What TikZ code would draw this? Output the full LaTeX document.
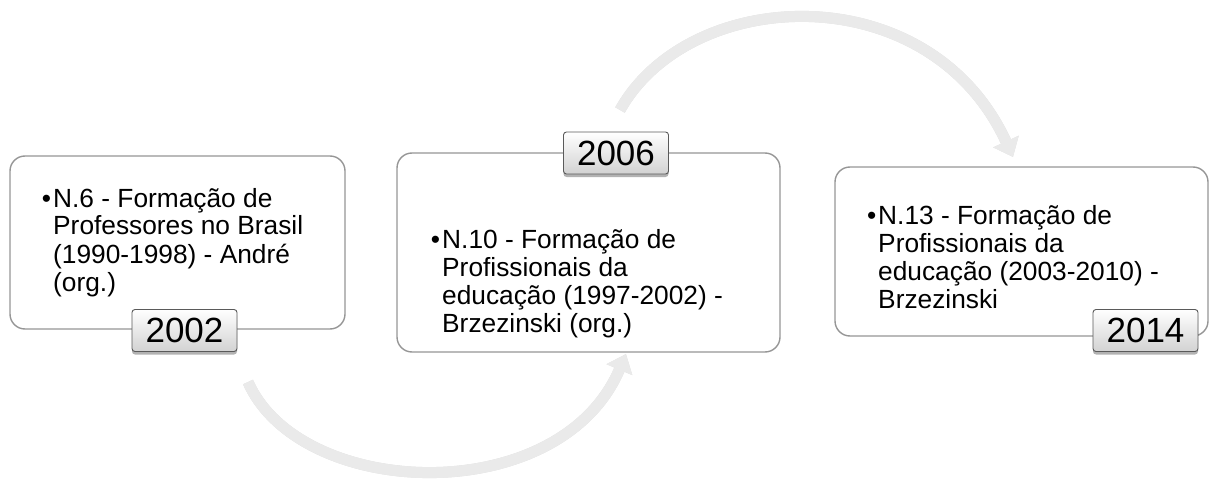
\documentclass[tikz,border=0pt]{standalone}
\usepackage{fontspec}
\setmainfont{Liberation Sans}
\usetikzlibrary{arrows.meta,shadows}
\definecolor{cardline}{RGB}{150,150,150}
\definecolor{yearline}{RGB}{90,90,90}
\definecolor{yeargray}{RGB}{210,210,210}
\definecolor{arrowgray}{RGB}{234,234,234}
\definecolor{arrowshade}{RGB}{200,200,200}
\newcommand{\cardtxt}[1]{\parbox[t]{330pt}{\raggedright\fontsize{26.3}{28}\selectfont\leavevmode\llap{•\kern2pt}#1}}
\begin{document}
\begin{tikzpicture}[x=1pt,y=-1pt,
  card/.style={draw=cardline, line width=1.4pt, rounded corners=15pt, fill=white, inner sep=0pt},
  yearbox/.style={draw=yearline, line width=0.9pt, rounded corners=3pt, top color=white, bottom color=yeargray,
    minimum width=105pt, minimum height=42pt, inner sep=0pt, font=\fontsize{35}{35}\selectfont,
    drop shadow={shadow xshift=0pt, shadow yshift=-3pt, opacity=0.3, fill=black}},
  cardtext/.style={anchor=base west, inner sep=0pt},
  flow/.style={line width=11pt, draw=arrowgray, -{Triangle[width=27pt,length=17pt]}},
  flowshadow/.style={line width=11pt, draw=arrowshade, opacity=0.6, -{Triangle[width=27pt,length=17pt]}},
  ]
\useasboundingbox (0,0) rectangle (1210,484);

% arrows
\coordinate (b0) at (248,382);
\coordinate (b1) at (300,500);
\coordinate (b2) at (560,510);
\coordinate (b3) at (626,354);
\coordinate (t0) at (620,110);
\coordinate (t1) at (690,-15);
\coordinate (t2) at (930,-25);
\coordinate (t3) at (1013,157);
\draw[flowshadow, shift={(1.5,2.5)}] (b0) .. controls (b1) and (b2) .. (b3);
\draw[flow] (b0) .. controls (b1) and (b2) .. (b3);
\draw[flowshadow, shift={(1.5,2.5)}] (t0) .. controls (t1) and (t2) .. (t3);
\draw[flow] (t0) .. controls (t1) and (t2) .. (t3);

% cards
\node[card, minimum width=335pt, minimum height=173pt] (c1) at (177.5,242.5) {};
\node[card, minimum width=383pt, minimum height=199pt] (c2) at (588.5,252.5) {};
\node[card, minimum width=373pt, minimum height=169pt] (c3) at (1021.5,251.5) {};

% texts
\node[cardtext] (x1) at (53,207) {\cardtxt{N.6 - Formação de\\Professores no Brasil\\(1990-1998) - André\\(org.)}};
\node[cardtext] (x2) at (442,248) {\cardtxt{N.10 - Formação de\\Profissionais da\\educação (1997-2002) -\\Brzezinski (org.)}};
\node[cardtext] (x3) at (878,224) {\cardtxt{N.13 - Formação de\\Profissionais da\\educação (2003-2010) -\\Brzezinski}};

% year labels
\node[yearbox] (y1) at (184.5,330.5) {2002};
\node[yearbox] (y2) at (616,153) {2006};
\node[yearbox] (y3) at (1145.5,330.5) {2014};
\end{tikzpicture}
\end{document}
